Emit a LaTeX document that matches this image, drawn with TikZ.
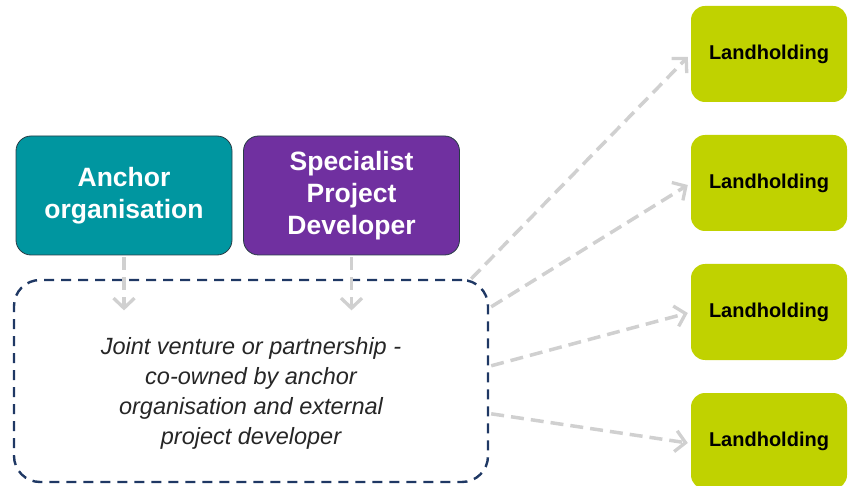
\documentclass[tikz,border=0pt]{standalone}
\usepackage{fontspec}
\setmainfont{Liberation Sans}
\usetikzlibrary{arrows.meta,calc}
\definecolor{anchorteal}{RGB}{0,150,160}
\definecolor{devpurple}{RGB}{112,48,160}
\definecolor{landgreen}{RGB}{192,210,0}
\definecolor{jvnavy}{RGB}{31,56,100}
\definecolor{flowgray}{RGB}{208,208,208}
\definecolor{edgedark}{RGB}{40,60,70}
\tikzset{
  topbox/.style={draw=edgedark, line width=0.8pt, rounded corners=15pt,
    minimum width=216pt, minimum height=119pt, text=white,
    font=\bfseries\fontsize{26.5}{32}\selectfont, align=center, inner sep=0pt},
  landbox/.style={fill=landgreen, rounded corners=14pt,
    minimum width=156pt, minimum height=96pt, text=black,
    font=\bfseries\fontsize{20}{24}\selectfont, inner sep=0pt},
  jvbox/.style={draw=jvnavy, line width=2.4pt, dash pattern=on 10pt off 7pt,
    rounded corners=26pt, minimum width=474pt, minimum height=202pt, inner sep=0pt},
  jvtext/.style={text=black!85, font=\itshape\fontsize{23.5}{30}\selectfont,
    align=center, inner sep=0pt},
  flow/.style={draw=flowgray, line width=3.5pt, dash pattern=on 13pt off 7pt,
    -{Straight Barb[length=10pt,width=21pt,line width=3.3pt]}}
}
\begin{document}
\begin{tikzpicture}[x=1pt,y=-1pt]
\useasboundingbox (0,0) rectangle (851,486);
% top partner boxes
\node[topbox, fill=anchorteal] (anchor) at (124,195.5) {Anchor\\organisation};
\node[topbox, fill=devpurple] (dev) at (351.5,195.5) {Specialist\\Project\\Developer};
% joint venture container and its description
\node[jvbox] (jv) at (251,381) {};
\node[jvtext] (jvlabel) at ($(jv.center)+(0,12)$) {Joint venture or partnership -\\co-owned by anchor\\organisation and external\\project developer};
% landholdings
\node[landbox] (lh1) at (769,54) {Landholding};
\node[landbox] (lh2) at (769,183) {Landholding};
\node[landbox] (lh3) at (769,312) {Landholding};
\node[landbox] (lh4) at (769,441) {Landholding};
% partners feed into the joint venture
\coordinate (anchorin) at ($(anchor.south)+(0,55)$);
\coordinate (devin) at ($(dev.south)+(0,55)$);
\draw[flow] ($(anchor.south)+(0,2)$) -- (anchorin);
\draw[flow] ($(dev.south)+(0,2)$) -- (devin);
% joint venture holds the landholdings
\draw[flow] ($(jv.north east)+(-18,0)$) -- ($(lh1.west)+(-3,3)$);
\draw[flow] ($(jv.north east)+(2,28)$) -- ($(lh2.west)+(-3,2)$);
\draw[flow] ($(jv.north east)+(2,87)$) -- ($(lh3.west)+(-3,1)$);
\draw[flow] ($(jv.north east)+(2,135)$) -- ($(lh4.west)+(-3,2)$);
\end{tikzpicture}
\end{document}
